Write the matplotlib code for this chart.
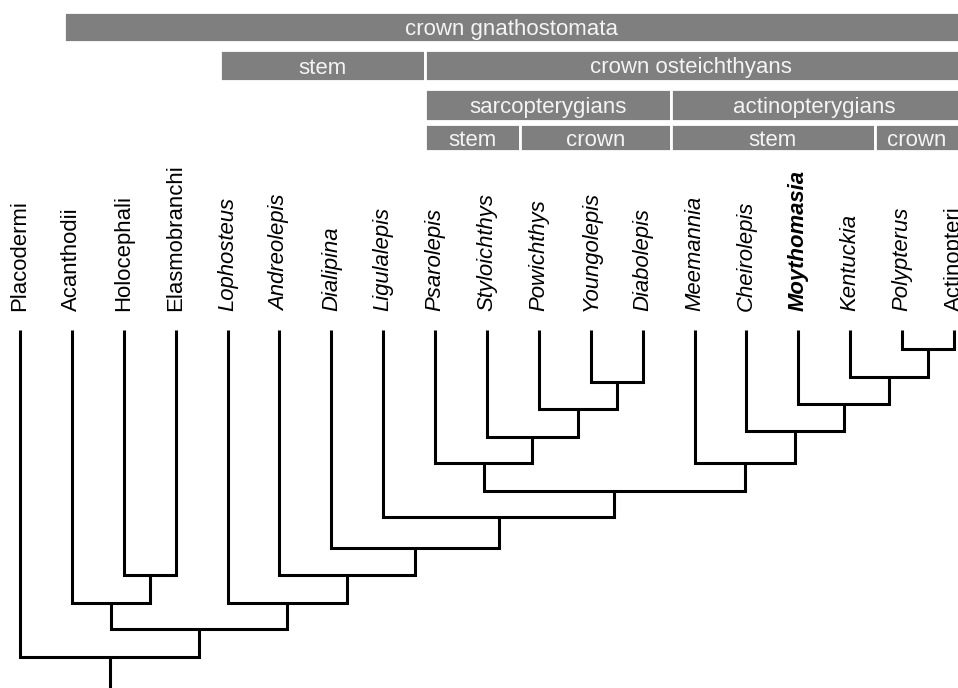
import matplotlib
matplotlib.use("Agg")
import matplotlib.pyplot as plt
from matplotlib.patches import Rectangle

plt.rcParams["font.family"] = ["Liberation Sans", "DejaVu Sans"]

# tips, left to right
TAXA = ["Placodermi", "Acanthodii", "Holocephali", "Elasmobranchi", "Lophosteus",
        "Andreolepis", "Dialipina", "Ligulalepis", "Psarolepis", "Styloichthys",
        "Powichthys", "Youngolepis", "Diabolepis", "Meemannia", "Cheirolepis",
        "Moythomasia", "Kentuckia", "Polypterus", "Actinopteri"]
ITALIC = [False, False, False, False] + [True] * 14 + [False]
BOLD = ["Moythomasia"]

# internal nodes: (name, left child, right child, height)
NODES = [
    ("PA", "Polypterus", "Actinopteri", 349),
    ("KPA", "Kentuckia", "PA", 377),
    ("MK", "Moythomasia", "KPA", 404),
    ("CM", "Cheirolepis", "MK", 431),
    ("ACT", "Meemannia", "CM", 463),
    ("YD", "Youngolepis", "Diabolepis", 382),
    ("PYD", "Powichthys", "YD", 409),
    ("SP", "Styloichthys", "PYD", 437),
    ("SAR", "Psarolepis", "SP", 463),
    ("OST", "SAR", "ACT", 491),
    ("LIG", "Ligulalepis", "OST", 517),
    ("DIA", "Dialipina", "LIG", 548),
    ("AND", "Andreolepis", "DIA", 575),
    ("LOP", "Lophosteus", "AND", 603),
    ("HE", "Holocephali", "Elasmobranchi", 575),
    ("CHO", "Acanthodii", "HE", 603),
    ("GN", "CHO", "LOP", 629),
    ("ROOT", "Placodermi", "GN", 657),
]
TIP_HEIGHT = 330
ROOT_END = 700
LABEL_BASE = 311

# header bars: (row, text, left, right) in tip-index units
HEADER_ROWS = [(12, 42), (50, 81), (89, 121), (124, 151)]
HEADER_BARS = [
    (0, "crown gnathostomata", 0.85, 18.6),
    (1, "stem", 3.85, 7.8),
    (1, "crown osteichthyans", 7.8, 18.6),
    (2, "sarcopterygians", 7.8, 12.55),
    (2, "actinopterygians", 12.55, 18.6),
    (3, "stem", 7.8, 9.63),
    (3, "crown", 9.63, 12.55),
    (3, "stem", 12.55, 16.47),
    (3, "crown", 16.47, 18.6),
]

XMIN, XMAX = -0.385, 18.076

fig = plt.figure(figsize=(9.58, 6.88), dpi=100)
ax = fig.add_axes([0, 0, 1, 1])
ax.set_xlim(XMIN, XMAX)
ax.set_ylim(688, 0)
ax.axis("off")

# tree
xpos = {name: i for i, name in enumerate(TAXA)}
ypos = {name: TIP_HEIGHT for name in TAXA}
for name, left, right, h in NODES:
    ax.plot([xpos[left], xpos[left], xpos[right], xpos[right]],
            [ypos[left], h, h, ypos[right]],
            color="black", lw=2.2, solid_joinstyle="miter", solid_capstyle="butt")
    xpos[name] = (xpos[left] + xpos[right]) / 2
    ypos[name] = h
root = NODES[-1][0]
ax.plot([xpos[root], xpos[root]], [ypos[root], ROOT_END], color="black", lw=2.2,
        solid_capstyle="butt")

for i, name in enumerate(TAXA):
    ax.text(i, LABEL_BASE, name, rotation=90, ha="center", va="bottom", fontsize=15.9,
            style="italic" if ITALIC[i] else "normal",
            fontweight="bold" if name in BOLD else "normal")

# header bars
for row, label, left, right in HEADER_BARS:
    top, bottom = HEADER_ROWS[row]
    ax.add_patch(Rectangle((left, top), right - left, bottom - top,
                           facecolor="#7f7f7f", edgecolor="white", lw=2.0))
    ax.text((left + min(right, XMAX)) / 2, (top + bottom) / 2, label,
            ha="center", va="center_baseline", fontsize=16, color="#f4f4f4")

fig.savefig("out.png", dpi=100)
